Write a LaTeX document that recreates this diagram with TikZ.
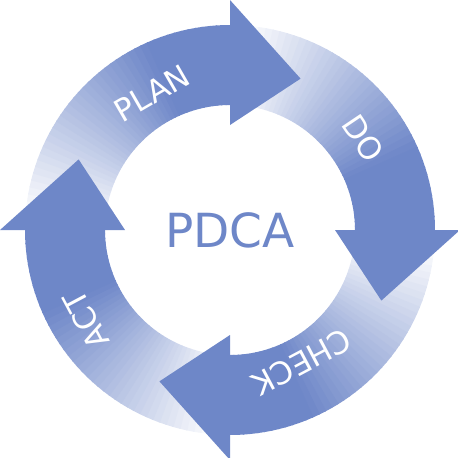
\documentclass[tikz,border=0pt]{standalone}
\usepackage{fontspec}
\setmainfont{DejaVu Sans}
\usetikzlibrary{calc}
\definecolor{pdcablue}{RGB}{110,135,200}
\tikzset{
  lbl/.style={text=white,font=\fontsize{31}{31}\selectfont}
}
\begin{document}
\begin{tikzpicture}[x=1pt,y=-1pt]
\useasboundingbox (0,0) rectangle (458,458);
\coordinate (c) at (230,230);
% arrow bodies, shaded by small pieces
\foreach \h in {90,0,-90,180}{
  \foreach \i in {0,...,42}{
    \pgfmathsetmacro\p{min(100,2+3.2*\i)}
    \pgfmathsetmacro\a{-\h-86+2*\i}
    \fill[pdcablue!\p!white] ($(c)+(\a:125)$) arc[start angle=\a,end angle=\a+2.4,radius=125]
      -- ($(c)+(\a+2.4:205)$) arc[start angle=\a+2.4,end angle=\a,radius=205] -- cycle;
  }
}
% arrow heads
\foreach \h in {90,0,-90,180}{
  \fill[pdcablue] ($(c)+(-\h:105)$) -- ($(c)+(-\h:230)$) -- ($(c)+(-\h+25:167)$) -- cycle;
}
\node[lbl,rotate=30] (plan) at (152,93) {PLAN};
\node[lbl,rotate=-56] (do) at (363,138) {DO};
\node[lbl,rotate=-152] (check) at (302,362) {CHECK};
\node[lbl,rotate=118] (act) at (86,320) {ACT};
\node[text=pdcablue,font=\fontsize{47}{47}\selectfont] (pdca) at (c) {PDCA};
\end{tikzpicture}
\end{document}
